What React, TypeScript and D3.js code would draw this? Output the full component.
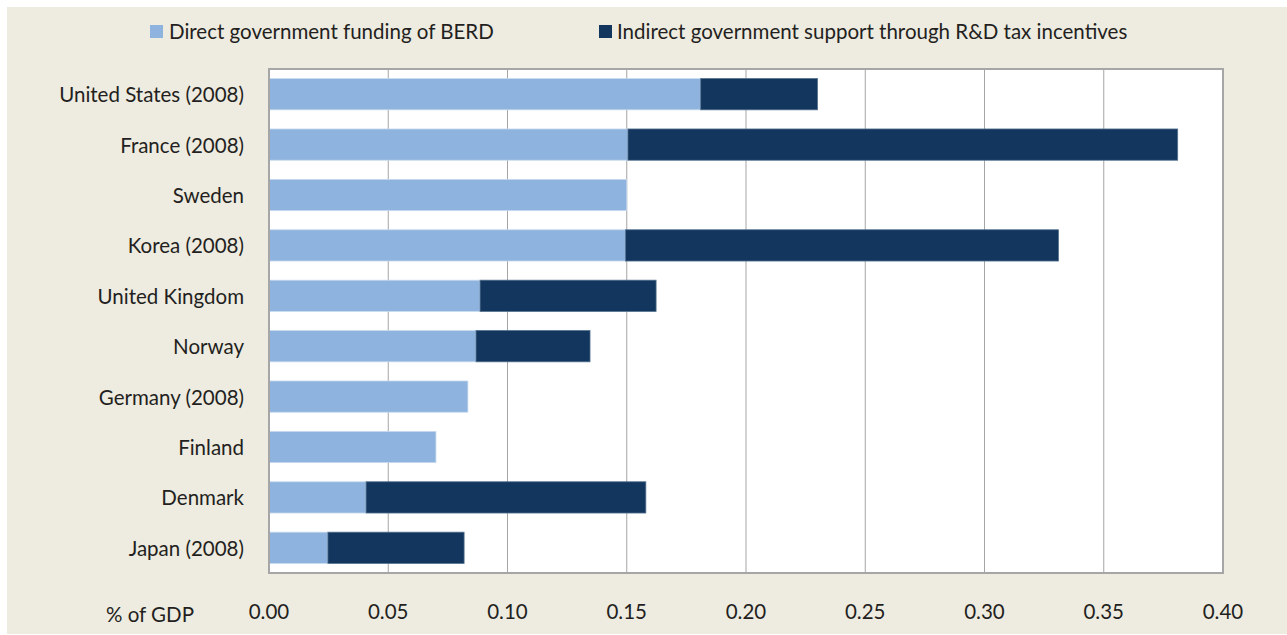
import React from "react";
import * as d3 from "d3";

const categories = [
  "United States (2008)",
  "France (2008)",
  "Sweden",
  "Korea (2008)",
  "United Kingdom",
  "Norway",
  "Germany (2008)",
  "Finland",
  "Denmark",
  "Japan (2008)",
];
const directFunding = [0.181, 0.1505, 0.15, 0.1495, 0.0885, 0.0868, 0.0834, 0.07, 0.0407, 0.0247];
const indirectSupport = [0.049, 0.2305, 0, 0.1815, 0.0738, 0.0478, 0, 0, 0.1173, 0.0571];
const xTicks = [0, 0.05, 0.1, 0.15, 0.2, 0.25, 0.3, 0.35, 0.4];
const seriesNames = [
  "Direct government funding of BERD",
  "Indirect government support through R&D tax incentives",
];
const colors = ["#8db3de", "#12365d"];

export default function App() {
  const W = 1287;
  const H = 635;
  const left = 269;
  const right = 1223;
  const top = 69;
  const bottom = 573;
  const x = d3.scaleLinear().domain([0, 0.4]).range([left, right]);
  const y = d3.scaleBand<string>().domain(categories).range([top, bottom]).paddingInner(0.38).paddingOuter(0.19);
  const font = "Lato, 'Open Sans', sans-serif";
  const fs = 20.5;
  const textColor = "#231f20";

  return (
    <svg width={W} height={H} style={{ position: "absolute", left: 0, top: 0 }}>
      <rect x={7} y={7} width={W - 7} height={H - 8} fill="#eeebe0" />
      <rect x={left} y={top} width={right - left} height={bottom - top} fill="#ffffff" />
      {xTicks.slice(1).map((t) => (
        <line key={t} x1={x(t)} x2={x(t)} y1={top} y2={bottom} stroke="#a5a5a5" strokeWidth={1} />
      ))}
      {categories.map((c, i) => {
        const y0 = y(c)!;
        const bh = y.bandwidth();
        return (
          <g key={c}>
            <rect x={x(0)} y={y0} width={x(directFunding[i]) - x(0)} height={bh} fill={colors[0]} stroke="#c9daee" strokeWidth={0.8} />
            {indirectSupport[i] > 0 && (
              <rect
                x={x(directFunding[i])}
                y={y0}
                width={x(directFunding[i] + indirectSupport[i]) - x(directFunding[i])}
                height={bh}
                fill={colors[1]}
                stroke="#52708e"
                strokeWidth={0.8}
              />
            )}
            <text x={244} y={y0 + bh / 2} textAnchor="end" dominantBaseline="central" fontFamily={font} fontSize={fs} fill={textColor}>
              {c}
            </text>
          </g>
        );
      })}
      <rect x={left} y={top} width={right - left} height={bottom - top} fill="none" stroke="#a6a6a6" strokeWidth={2} />
      {xTicks.map((t) => (
        <text key={t} x={x(t)} y={611} textAnchor="middle" dominantBaseline="central" fontFamily={font} fontSize={fs} fill={textColor}>
          {d3.format(".2f")(t)}
        </text>
      ))}
      <text x={150} y={614} textAnchor="middle" dominantBaseline="central" fontFamily={font} fontSize={fs} fill={textColor}>
        % of GDP
      </text>
      <g>
        <rect x={150} y={25} width={13} height={13} fill={colors[0]} />
        <text x={169} y={31} dominantBaseline="central" fontFamily={font} fontSize={fs} fill={textColor}>
          {seriesNames[0]}
        </text>
        <rect x={599} y={25} width={13} height={13} fill={colors[1]} />
        <text x={617} y={31} dominantBaseline="central" fontFamily={font} fontSize={fs} fill={textColor}>
          {seriesNames[1]}
        </text>
      </g>
    </svg>
  );
}
